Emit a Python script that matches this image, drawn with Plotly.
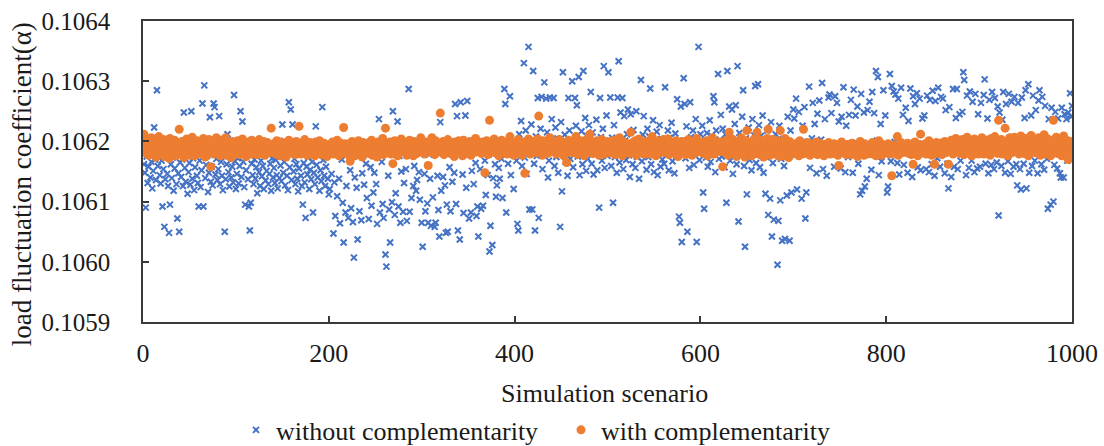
import plotly.graph_objects as go

# values in micro-units above 0.1059 (value = 0.1059 + u * 1e-6)
BASE = 0.1059
blue_u = [
262, 248, 190, 275, 231, 258, 284, 240, 266, 222, 251, 323, 270, 236, 385, 259, 278, 244, 230, 268,
192, 254, 158, 237, 281, 246, 226, 148, 195, 262, 239, 273, 218, 255, 288, 229, 172, 247, 150, 265,
241, 270, 226, 348, 256, 233, 279, 213, 249, 264, 228, 350, 238, 272, 219, 257, 284, 243, 231, 192,
268, 224, 252, 363, 192, 393, 239, 261, 276, 216, 248, 340, 233, 258, 227, 363, 357, 245, 271, 236,
254, 342, 229, 266, 243, 219, 281, 150, 237, 262, 312, 249, 225, 274, 240, 258, 232, 377, 267, 221,
246, 272, 230, 259, 350, 241, 333, 266, 224, 195, 252, 279, 237, 192, 152, 198, 263, 244, 229, 270,
238, 257, 214, 283, 249, 226, 268, 242, 259, 221, 276, 235, 251, 287, 229, 246, 263, 218, 272, 240,
256, 231, 269, 244, 222, 278, 239, 260, 234, 328, 248, 266, 227, 284, 243, 219, 365, 257, 353, 236,
328, 250, 271, 229, 262, 238, 217, 255, 281, 243, 226, 195, 264, 232, 173, 258, 245, 274, 221, 253,
237, 266, 182, 248, 229, 325, 261, 240, 276, 218, 252, 234, 357, 269, 243, 226, 258, 281, 238, 212,
221, 287, 246, 293, 147, 232, 176, 281, 209, 298, 238, 164, 276, 270, 198, 132, 291, 182, 226, 284,
173, 296, 252, 189, 279, 166, 107, 240, 288, 223, 137, 283, 184, 295, 169, 247, 277, 228, 290, 263,
206, 286, 171, 299, 257, 193, 281, 215, 248, 292, 229, 163, 278, 337, 182, 294, 266, 196, 173, 285,
112, 92, 289, 243, 187, 132, 297, 199, 350, 280, 178, 214, 293, 333, 192, 276, 165, 250, 288, 183,
231, 282, 254, 168, 295, 387, 183, 279, 206, 291, 226, 259, 284, 218, 236, 297, 249, 203, 287, 165,
125, 286, 246, 184, 293, 197, 165, 278, 238, 160, 289, 207, 296, 158, 165, 281, 243, 186, 142, 332,
218, 292, 241, 283, 227, 148, 195, 150, 298, 257, 184, 279, 233, 287, 248, 362, 196, 342, 152, 294,
137, 365, 285, 245, 181, 296, 343, 223, 367, 278, 172, 291, 182, 251, 284, 229, 299, 264, 176, 192,
142, 288, 254, 188, 281, 193, 297, 268, 211, 290, 244, 278, 117, 160, 293, 128, 239, 286, 262, 208,
227, 289, 256, 238, 296, 271, 206, 283, 387, 362, 182, 294, 263, 279, 375, 244, 298, 278, 221, 287,
297, 268, 163, 152, 312, 281, 334, 259, 290, 430, 273, 318, 246, 302, 457, 187, 285, 328, 187, 417,
263, 152, 308, 276, 372, 173, 289, 321, 374, 254, 297, 398, 282, 371, 315, 240, 268, 373, 301, 337,
286, 372, 259, 323, 274, 305, 248, 291, 158, 332, 217, 415, 279, 311, 266, 294, 243, 372, 318, 271,
303, 400, 257, 288, 372, 326, 360, 275, 407, 244, 296, 317, 262, 417, 283, 339, 251, 309, 271, 327,
294, 382, 263, 315, 245, 302, 278, 336, 252, 289, 190, 372, 307, 268, 321, 425, 256, 298, 343, 276,
415, 281, 373, 259, 306, 198, 327, 274, 292, 248, 373, 433, 265, 348, 286, 372, 254, 342, 301, 269,
312, 353, 277, 241, 345, 293, 262, 319, 285, 256, 350, 274, 303, 238, 289, 402, 267, 311, 342, 279,
296, 253, 321, 274, 308, 388, 262, 287, 335, 249, 301, 278, 316, 244, 291, 327, 258, 304, 270, 286,
263, 390, 297, 279, 318, 252, 306, 284, 331, 267, 294, 247, 313, 276, 370, 289, 175, 165, 358, 133,
301, 405, 362, 272, 325, 150, 288, 256, 365, 307, 279, 318, 261, 296, 337, 133, 284, 457, 269, 312,
291, 326, 215, 188, 302, 273, 314, 258, 297, 335, 266, 309, 282, 375, 365, 249, 318, 290, 412, 271,
303, 344, 275, 321, 289, 257, 312, 198, 417, 283, 358, 268, 305, 353, 246, 293, 329, 360, 262, 425,
167, 314, 276, 298, 341, 385, 259, 125, 305, 212, 287, 323, 269, 301, 252, 337, 278, 310, 392, 264,
296, 395, 327, 257, 309, 281, 343, 248, 301, 213, 274, 318, 178, 289, 205, 332, 142, 264, 170, 297,
312, 283, 95, 168, 326, 202, 271, 135, 304, 259, 138, 297, 210, 341, 276, 135, 318, 215, 288, 353,
338, 288, 371, 220, 297, 349, 281, 294, 205, 326, 285, 357, 172, 215, 299, 279, 391, 256, 283, 305,
364, 291, 329, 282, 247, 346, 298, 368, 286, 303, 397, 254, 289, 337, 278, 243, 295, 373, 378, 287,
347, 284, 292, 258, 375, 296, 364, 281, 333, 289, 255, 341, 297, 390, 283, 249, 326, 291, 274, 344,
293, 369, 286, 248, 386, 280, 343, 298, 358, 263, 287, 212, 379, 218, 294, 348, 225, 282, 238, 352,
289, 366, 279, 253, 382, 297, 347, 285, 417, 301, 407, 244, 292, 329, 267, 283, 385, 296, 343, 288,
215, 225, 290, 412, 267, 392, 283, 383, 299, 378, 287, 264, 371, 245, 294, 389, 281, 344, 261, 297,
356, 286, 248, 334, 293, 388, 279, 241, 375, 298, 362, 285, 380, 257, 291, 371, 252, 283, 338, 296,
343, 287, 254, 376, 295, 249, 369, 282, 262, 384, 292, 243, 367, 298, 272, 389, 284, 258, 374, 290,
371, 289, 247, 352, 296, 263, 222, 357, 281, 241, 293, 387, 258, 299, 339, 387, 254, 285, 345, 268,
294, 349, 415, 402, 287, 244, 376, 298, 256, 383, 282, 268, 366, 291, 249, 379, 295, 255, 345, 286,
258, 364, 288, 297, 377, 403, 263, 281, 338, 247, 369, 293, 261, 382, 285, 254, 372, 299, 265, 358,
177, 348, 290, 259, 336, 382, 284, 248, 362, 296, 267, 379, 288, 246, 366, 293, 258, 374, 287, 262,
227, 364, 289, 254, 220, 373, 297, 263, 339, 385, 222, 291, 395, 248, 286, 343, 259, 376, 294, 268,
352, 288, 247, 368, 385, 296, 262, 374, 283, 253, 359, 291, 271, 188, 337, 297, 195, 356, 284, 200,
261, 349, 290, 255, 338, 296, 247, 240, 356, 287, 240, 345, 293, 337, 268, 348, 298, 380, 341, 359,
]

orange_u = [
312, 296, 281, 304, 289, 277, 299, 285, 306, 292, 279, 301, 287, 274, 296, 283, 308, 291, 278, 298,
286, 303, 275, 294, 281, 299, 289, 272, 305, 284, 296, 279, 291, 302, 276, 288, 297, 283, 320, 290,
279, 300, 286, 273, 295, 288, 304, 281, 293, 277, 298, 285, 307, 290, 276, 294, 282, 301, 287, 296,
284, 299, 278, 292, 305, 286, 274, 297, 289, 281, 303, 293, 258, 287, 300, 279, 294, 285, 306, 282,
297, 288, 276, 302, 284, 295, 280, 291, 306, 277, 289, 298, 283, 294, 273, 300, 287, 279, 296, 290,
283, 301, 292, 278, 295, 286, 304, 281, 290, 297, 275, 288, 299, 284, 293, 279, 302, 287, 296, 282,
291, 278, 297, 285, 303, 289, 280, 294, 286, 300, 277, 292, 284, 298, 288, 281, 295, 322, 283, 290,
296, 284, 279, 301, 288, 293, 276, 290, 299, 285, 282, 297, 289, 274, 294, 287, 302, 280, 291, 286,
283, 295, 288, 278, 300, 290, 284, 325, 292, 279, 297, 286, 281, 303, 289, 294, 277, 291, 285, 298,
288, 281, 296, 290, 276, 299, 285, 292, 283, 301, 287, 278, 294, 289, 297, 282, 290, 275, 293, 286,
295, 283, 290, 299, 279, 288, 294, 281, 302, 286, 276, 292, 297, 284, 289, 323, 280, 296, 287, 291,
278, 294, 267, 289, 300, 283, 292, 276, 297, 288, 284, 301, 279, 293, 290, 274, 298, 286, 282, 295,
289, 297, 280, 293, 285, 302, 277, 291, 288, 296, 283, 274, 299, 287, 294, 281, 290, 305, 278, 293,
322, 286, 296, 282, 290, 299, 279, 293, 263, 288, 301, 284, 292, 276, 297, 289, 283, 304, 287, 291,
284, 298, 290, 277, 294, 287, 302, 281, 295, 289, 276, 300, 286, 292, 280, 297, 288, 283, 306, 291,
287, 296, 279, 293, 284, 299, 260, 290, 297, 282, 306, 288, 294, 278, 301, 285, 291, 296, 283, 347,
292, 285, 300, 278, 296, 289, 283, 303, 287, 294, 280, 298, 291, 286, 275, 299, 284, 293, 289, 301,
283, 295, 290, 276, 302, 287, 294, 281, 298, 289, 285, 300, 277, 293, 288, 296, 282, 305, 290, 284,
297, 286, 291, 280, 299, 288, 294, 248, 285, 301, 278, 292, 335, 287, 296, 283, 290, 304, 281, 293,
288, 299, 276, 294, 285, 302, 290, 281, 297, 287, 293, 279, 300, 286, 308, 283, 295, 289, 277, 298,
285, 294, 289, 303, 280, 296, 288, 277, 299, 291, 247, 286, 297, 283, 304, 290, 279, 295, 287, 300,
292, 281, 298, 287, 304, 342, 283, 296, 290, 277, 301, 288, 294, 285, 299, 280, 293, 306, 286, 291,
297, 284, 290, 300, 279, 295, 288, 303, 282, 293, 287, 298, 276, 291, 296, 265, 289, 302, 284, 294,
281, 296, 289, 299, 285, 308, 292, 278, 297, 287, 301, 284, 293, 290, 276, 298, 286, 304, 283, 295,
312, 288, 294, 280, 299, 287, 293, 282, 301, 290, 277, 296, 285, 303, 289, 279, 298, 292, 284, 300,
287, 295, 281, 299, 290, 284, 302, 278, 294, 288, 297, 283, 306, 291, 286, 276, 300, 289, 293, 282,
296, 285, 292, 280, 315, 289, 298, 283, 294, 301, 277, 290, 286, 304, 281, 297, 288, 293, 279, 299,
284, 293, 300, 287, 279, 296, 290, 308, 282, 295, 288, 276, 301, 292, 285, 298, 281, 294, 289, 303,
291, 282, 297, 286, 304, 278, 293, 289, 299, 284, 296, 280, 292, 301, 287, 275, 298, 290, 283, 295,
300, 285, 291, 278, 296, 288, 303, 283, 294, 290, 277, 299, 286, 292, 281, 305, 289, 296, 284, 293,
287, 298, 280, 295, 290, 284, 301, 276, 293, 289, 297, 282, 306, 288, 279, 294, 300, 285, 291, 296,
283, 292, 299, 258, 288, 296, 281, 302, 290, 277, 315, 285, 294, 289, 303, 280, 297, 287, 275, 293,
299, 284, 290, 306, 279, 295, 288, 274, 301, 318, 286, 297, 282, 293, 276, 300, 289, 304, 280, 292,
315, 287, 296, 278, 302, 285, 293, 274, 299, 288, 281, 305, 320, 290, 277, 297, 284, 303, 289, 280,
294, 278, 301, 287, 275, 318, 292, 283, 298, 276, 305, 289, 281, 296, 273, 300, 287, 292, 279, 295,
286, 293, 280, 297, 288, 276, 301, 284, 291, 279, 320, 287, 294, 282, 298, 285, 290, 277, 296, 283,
289, 281, 294, 286, 299, 278, 291, 284, 297, 280, 288, 293, 276, 295, 285, 290, 282, 298, 287, 279,
292, 285, 280, 296, 288, 283, 294, 277, 260, 290, 286, 299, 281, 293, 284, 289, 278, 295, 287, 282,
291, 278, 297, 286, 283, 294, 280, 289, 275, 292, 287, 300, 282, 290, 285, 277, 296, 284, 291, 279,
288, 294, 281, 286, 298, 279, 292, 284, 276, 290, 287, 301, 283, 289, 277, 295, 286, 280, 293, 285,
282, 296, 288, 279, 291, 243, 286, 294, 280, 290, 284, 308, 277, 292, 287, 298, 281, 289, 295, 283,
291, 285, 297, 280, 288, 294, 278, 290, 262, 286, 299, 283, 292, 276, 295, 288, 312, 281, 293, 287,
284, 296, 279, 290, 287, 301, 282, 293, 277, 289, 295, 262, 286, 298, 280, 291, 284, 297, 288, 278,
293, 286, 300, 281, 295, 289, 262, 296, 283, 302, 287, 279, 294, 290, 305, 284, 297, 288, 280, 299,
286, 303, 291, 278, 297, 285, 307, 282, 294, 289, 300, 276, 296, 288, 304, 283, 292, 298, 279, 301,
290, 284, 306, 293, 279, 299, 287, 302, 281, 296, 291, 277, 305, 288, 294, 283, 308, 286, 297, 280,
335, 292, 287, 303, 279, 296, 288, 322, 284, 300, 276, 293, 306, 289, 281, 298, 290, 307, 283, 295,
288, 301, 279, 294, 309, 286, 297, 280, 292, 305, 284, 290, 276, 299, 287, 310, 282, 296, 289, 303,
281, 298, 290, 306, 285, 277, 300, 293, 287, 311, 279, 295, 289, 304, 283, 297, 276, 301, 292, 335,
294, 286, 307, 280, 299, 290, 284, 305, 276, 296, 309, 288, 281, 302, 293, 270, 287, 300, 278, 291,
]

scenarios = list(range(1, len(blue_u) + 1))
blue_vals = [BASE + u * 1e-6 for u in blue_u]
orange_vals = [BASE + u * 1e-6 for u in orange_u]

y_ticks = [0.1059, 0.1060, 0.1061, 0.1062, 0.1063, 0.1064]
y_tick_labels = ["0.1059", "0.1060", "0.1061", "0.1062", "0.1063", "0.1064"]
x_ticks = [0, 200, 400, 600, 800, 1000]

FONT = "Liberation Serif"
AXIS_COLOR = "#3a3a3a"
TEXT = "#1a1a1a"

fig = go.Figure()
fig.add_trace(go.Scatter(
    x=scenarios, y=blue_vals, mode="markers", name="without complementarity",
    legend="legend",
    marker=dict(symbol="x-thin", size=6, line=dict(width=2, color="#4472C4"), color="#4472C4"),
))
fig.add_trace(go.Scatter(
    x=scenarios, y=orange_vals, mode="markers", name="with complementarity",
    legend="legend2",
    marker=dict(symbol="circle", size=9, color="#ED7D31", line=dict(width=0)),
))

legend_common = dict(
    orientation="h", xref="container", yref="container",
    xanchor="left", y=0.036, yanchor="middle",
    font=dict(family=FONT, size=26, color=TEXT),
    itemsizing="trace", bgcolor="rgba(0,0,0,0)",
)

fig.update_layout(
    width=1104, height=446,
    margin=dict(l=143, r=32, t=21, b=124, autoexpand=False),
    paper_bgcolor="white", plot_bgcolor="white",
    font=dict(family=FONT, size=26, color=TEXT),
    showlegend=True,
    legend=dict(legend_common, x=(260 - 24) / 1104),
    legend2=dict(legend_common, x=(587 - 26) / 1104),
    xaxis=dict(
        range=[0, 1000], tickvals=x_ticks, showgrid=False, zeroline=False,
        showline=True, linecolor=AXIS_COLOR, linewidth=1.5, mirror=True,
        ticks="inside", ticklen=6, tickwidth=1.5, tickcolor=AXIS_COLOR,
        tickfont=dict(family=FONT, size=26, color=TEXT), ticklabelstandoff=7,
        automargin=False,
    ),
    yaxis=dict(
        range=[0.1059, 0.1064], tickvals=y_ticks, ticktext=y_tick_labels,
        showgrid=False, zeroline=False,
        showline=True, linecolor=AXIS_COLOR, linewidth=1.5, mirror=True,
        ticks="inside", ticklen=6, tickwidth=1.5, tickcolor=AXIS_COLOR,
        tickfont=dict(family=FONT, size=25, color=TEXT), ticklabelstandoff=26,
        automargin=False,
    ),
    annotations=[
        dict(text="Simulation scenario", xref="paper", yref="paper",
             x=0.4973, y=-0.236, xanchor="center", yanchor="middle", showarrow=False,
             font=dict(family=FONT, size=26, color=TEXT)),
        dict(text="load fluctuation coefficient(α)", xref="paper", yref="paper",
             x=-0.130, y=0.4585, xanchor="center", yanchor="middle", showarrow=False,
             textangle=-90, font=dict(family=FONT, size=27, color=TEXT)),
    ],
)

fig.write_html("out.html")
